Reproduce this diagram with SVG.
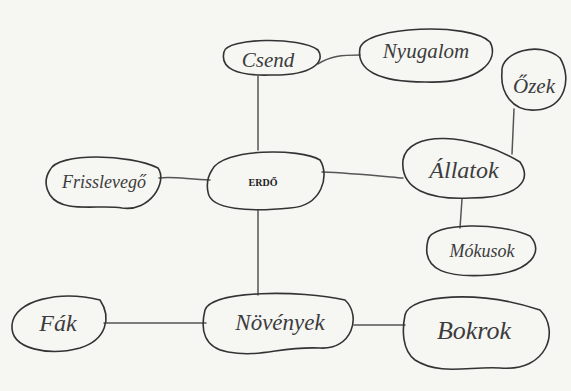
<svg xmlns="http://www.w3.org/2000/svg" width="571" height="391" viewBox="0 0 571 391">
  <style>
    .paper { fill: #f6f6f3; }
    .blob { fill: none; stroke: #333; stroke-width: 1.6; stroke-linejoin: round; stroke-linecap: round; }
    .link { fill: none; stroke: #555; stroke-width: 1.5; stroke-linecap: round; }
    .hand { font-family: "Liberation Serif", "DejaVu Serif", serif; font-style: italic; font-size: 21px; fill: #3c3c3c; text-anchor: middle; dominant-baseline: central; }
    .title { font-family: "Liberation Serif", serif; font-weight: bold; font-size: 10px; fill: #222; text-anchor: middle; dominant-baseline: central; }
  </style>
  <rect class="paper" x="0" y="0" width="571" height="391"/>

  <g id="connectors">
    <path class="link" d="M258,76 L258,150"/>
    <path class="link" d="M318,64 C330,56 342,55 360,55"/>
    <path class="link" d="M159,178 C175,176 190,180 210,180"/>
    <path class="link" d="M322,172 C350,173 380,176 403,178"/>
    <path class="link" d="M514,109 L512,154"/>
    <path class="link" d="M462,199 L460,228"/>
    <path class="link" d="M258,210 L258,295"/>
    <path class="link" d="M104,323 L206,323"/>
    <path class="link" d="M354,325 L405,325"/>
  </g>

  <g id="node-csend">
    <path class="blob" d="M224,52 C226,38 300,36 318,50 C326,62 312,76 270,75 C236,76 220,68 224,52 Z"/>
    <text class="hand" x="268" y="60">Csend</text>
  </g>
  <g id="node-nyugalom">
    <path class="blob" d="M360,48 C366,26 470,22 490,42 C500,60 480,84 425,82 C378,82 356,70 360,48 Z"/>
    <text class="hand" x="426" y="51">Nyugalom</text>
  </g>
  <g id="node-ozek">
    <path class="blob" d="M502,72 C500,52 540,40 560,58 C572,78 566,108 536,110 C512,112 500,92 502,72 Z"/>
    <text class="hand" x="534" y="86">Őzek</text>
  </g>
  <g id="node-frisslevego">
    <path class="blob" d="M50,170 C58,152 130,154 158,168 C168,182 150,212 122,208 C100,204 62,214 50,195 C44,185 46,176 50,170 Z"/>
    <text class="hand" x="104" y="182" style="font-size:18px">Frisslevegő</text>
  </g>
  <g id="node-erdo">
    <path class="blob" d="M212,170 C222,148 300,148 320,160 C330,176 322,206 290,208 C250,212 210,210 208,192 C206,182 208,176 212,170 Z"/>
    <text class="title" x="263" y="182">ERDŐ</text>
  </g>
  <g id="node-allatok">
    <path class="blob" d="M403,160 C408,130 470,132 520,162 C532,180 520,198 470,198 C430,200 400,190 403,160 Z"/>
    <text class="hand" x="464" y="170" style="font-size:24px">Állatok</text>
  </g>
  <g id="node-mokusok">
    <path class="blob" d="M428,240 C432,222 500,222 530,236 C545,252 530,272 490,275 C450,278 420,272 428,240 Z"/>
    <text class="hand" x="482" y="251" style="font-size:18px">Mókusok</text>
  </g>
  <g id="node-fak">
    <path class="blob" d="M12,325 C14,300 60,290 100,300 C112,318 106,340 80,348 C50,356 10,350 12,325 Z"/>
    <text class="hand" x="58" y="323" style="font-size:24px">Fák</text>
  </g>
  <g id="node-novenyek">
    <path class="blob" d="M205,310 C212,290 300,290 345,300 C362,316 352,350 320,348 C280,346 262,358 228,352 C204,348 200,330 205,310 Z"/>
    <text class="hand" x="280" y="322" style="font-size:23px">Növények</text>
  </g>
  <g id="node-bokrok">
    <path class="blob" d="M405,315 C410,294 480,290 540,310 C560,330 548,372 500,368 C470,366 440,376 415,360 C402,350 402,330 405,315 Z"/>
    <text class="hand" x="474" y="330" style="font-size:26px">Bokrok</text>
  </g>
</svg>
